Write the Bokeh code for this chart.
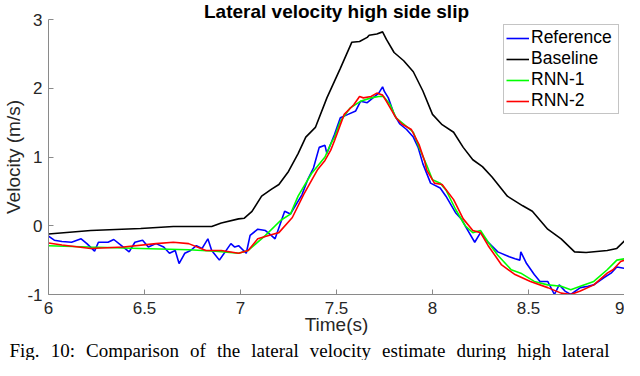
import numpy as np
from bokeh.plotting import figure
from bokeh.models import Range1d, FixedTicker, Legend, LegendItem, Title
from bokeh.embed import file_html
from bokeh.resources import INLINE

# ---------------- data ----------------
ref_t = [6.00, 6.03, 6.07, 6.12, 6.17, 6.20, 6.24, 6.26, 6.31, 6.34, 6.38, 6.42, 6.45,
         6.49, 6.52, 6.56, 6.60, 6.63, 6.66, 6.68, 6.71, 6.74, 6.77, 6.80, 6.83, 6.85,
         6.89, 6.92, 6.95, 6.97, 6.99, 7.03, 7.05, 7.09, 7.13, 7.16, 7.18, 7.21, 7.23,
         7.26, 7.29, 7.32, 7.35, 7.38, 7.41, 7.44, 7.45, 7.49, 7.52, 7.56, 7.60, 7.625,
         7.66, 7.69, 7.72, 7.74, 7.75, 7.77, 7.80, 7.83, 7.865, 7.90, 7.925, 7.95, 7.99,
         8.04, 8.07, 8.12, 8.15, 8.18, 8.22, 8.25, 8.29, 8.34, 8.40, 8.43, 8.455, 8.46,
         8.49, 8.53, 8.56, 8.60, 8.635, 8.66, 8.69, 8.72, 8.77, 8.81, 8.84, 8.89, 8.93,
         8.96, 9.00]
ref_v = [-0.15, -0.21, -0.23, -0.24, -0.19, -0.26, -0.37, -0.24, -0.24, -0.20, -0.29, -0.38, -0.24,
         -0.21, -0.31, -0.26, -0.31, -0.40, -0.36, -0.55, -0.40, -0.36, -0.29, -0.33, -0.19, -0.36,
         -0.50, -0.38, -0.26, -0.31, -0.29, -0.40, -0.14, -0.05, -0.07, -0.14, -0.19, 0.05, 0.21,
         0.17, 0.31, 0.45, 0.67, 0.84, 1.14, 1.17, 1.05, 1.33, 1.57, 1.62, 1.67, 1.81,
         1.79, 1.86, 1.93, 2.02, 1.95, 1.86, 1.62, 1.48, 1.40, 1.29, 1.14, 0.90, 0.62,
         0.55, 0.43, 0.19, 0.10, -0.05, -0.24, -0.10, -0.24, -0.38, -0.45, -0.48, -0.50, -0.38,
         -0.55, -0.71, -0.81, -0.81, -1.00, -0.86, -0.95, -1.00, -0.90, -0.88, -0.86, -0.76, -0.69,
         -0.60, -0.62]

base_t = [6.00, 6.22, 6.48, 6.65, 6.85, 6.90, 6.99, 7.02, 7.06, 7.11, 7.16, 7.20, 7.25,
          7.30, 7.34, 7.39, 7.45, 7.52, 7.58, 7.62, 7.66, 7.67, 7.71, 7.74, 7.76, 7.80,
          7.85, 7.90, 7.95, 8.00, 8.05, 8.11, 8.16, 8.21, 8.26, 8.31, 8.39, 8.47, 8.52,
          8.60, 8.67, 8.74, 8.80, 8.91, 8.96, 9.00]
base_v = [-0.12, -0.07, -0.04, -0.01, -0.01, 0.04, 0.10, 0.11, 0.21, 0.43, 0.53, 0.60, 0.79,
          1.05, 1.29, 1.43, 1.86, 2.29, 2.67, 2.68, 2.74, 2.77, 2.79, 2.82, 2.71, 2.52,
          2.40, 2.24, 1.96, 1.62, 1.47, 1.36, 1.14, 0.96, 0.86, 0.71, 0.43, 0.29, 0.21,
          -0.05, -0.19, -0.38, -0.39, -0.36, -0.33, -0.22]

rnn1_t = [6.00, 6.21, 6.48, 6.73, 6.87, 6.99, 7.04, 7.13, 7.21, 7.26, 7.30, 7.37, 7.44,
          7.47, 7.49, 7.52, 7.57, 7.625, 7.68, 7.72, 7.745, 7.78, 7.81, 7.85, 7.90, 7.93,
          7.97, 8.00, 8.04, 8.07, 8.12, 8.17, 8.21, 8.25, 8.29, 8.34, 8.41, 8.46, 8.53,
          8.60, 8.67, 8.72, 8.77, 8.84, 8.91, 8.96, 9.00]
rnn1_v = [-0.29, -0.31, -0.33, -0.35, -0.37, -0.40, -0.36, -0.14, 0.08, 0.17, 0.43, 0.76, 1.00,
          1.19, 1.29, 1.52, 1.71, 1.81, 1.86, 1.88, 1.88, 1.76, 1.57, 1.48, 1.36, 1.14,
          0.88, 0.67, 0.62, 0.52, 0.24, 0.00, -0.10, -0.07, -0.24, -0.43, -0.64, -0.69, -0.81,
          -0.86, -0.88, -0.93, -0.88, -0.81, -0.64, -0.50, -0.48]

rnn2_t = [6.00, 6.07, 6.22, 6.39, 6.56, 6.65, 6.73, 6.82, 6.90, 6.99, 7.04, 7.09, 7.16,
          7.20, 7.27, 7.33, 7.40, 7.44, 7.47, 7.49, 7.54, 7.59, 7.62, 7.64, 7.68, 7.71,
          7.74, 7.76, 7.81, 7.84, 7.89, 7.93, 7.96, 7.97, 8.01, 8.05, 8.11, 8.16, 8.21,
          8.25, 8.29, 8.36, 8.43, 8.51, 8.60, 8.67, 8.72, 8.77, 8.84, 8.91, 8.94, 8.98, 9.00]
rnn2_v = [-0.25, -0.28, -0.33, -0.31, -0.26, -0.24, -0.26, -0.36, -0.36, -0.40, -0.36, -0.19, -0.13,
          -0.10, 0.12, 0.46, 0.81, 0.95, 1.10, 1.24, 1.62, 1.76, 1.88, 1.86, 1.88, 1.93,
          1.90, 1.81, 1.57, 1.48, 1.40, 1.18, 0.93, 0.81, 0.62, 0.60, 0.38, 0.10, -0.07,
          -0.10, -0.29, -0.57, -0.71, -0.81, -0.90, -0.98, -1.00, -0.95, -0.86, -0.69, -0.64, -0.52, -0.50]

series_names = ["Reference", "Baseline", "RNN-1", "RNN-2"]
series_colors = ["#0000ff", "#000000", "#00ff00", "#ff0000"]

x_ticks = [6, 6.5, 7, 7.5, 8, 8.5, 9]
x_tick_labels = ["6", "6.5", "7", "7.5", "8", "8.5", "9"]
y_ticks = [-1, 0, 1, 2, 3]
y_tick_labels = ["-1", "0", "1", "2", "3"]

title_text = "Lateral velocity high side slip"
x_label = "Time(s)"
y_label = "Velocity (m/s)"
caption_words = ["Fig.", "10:", "Comparison", "of", "the", "lateral", "velocity",
                 "estimate", "during", "high", "lateral"]

# ---------------- figure ----------------
p = figure(width=624, height=360, output_backend="svg", toolbar_location=None,
           x_range=Range1d(6, 9), y_range=Range1d(-1, 3),
           min_border_left=0, min_border_right=0, min_border_top=0, min_border_bottom=0)
p.outline_line_color = None
p.xgrid.visible = False
p.ygrid.visible = False
p.background_fill_color = "white"
p.border_fill_color = "white"

p.title.text = title_text
p.title.align = "center"
p.title.text_font = "Liberation Sans"
p.title.text_font_style = "bold"
p.title.text_font_size = "19px"
p.title.text_color = "#000000"
p.title.standoff = -4

for ax, ticks, labels in ((p.xaxis[0], x_ticks, x_tick_labels), (p.yaxis[0], y_ticks, y_tick_labels)):
    ax.ticker = FixedTicker(ticks=ticks)
    ax.major_label_overrides = {t: l for t, l in zip(ticks, labels)}
    ax.minor_tick_line_color = None
    ax.major_tick_in = 5
    ax.major_tick_out = 0
    ax.axis_line_color = "#8a8a8a"
    ax.major_tick_line_color = "#8a8a8a"
    ax.major_label_text_font = "Liberation Sans"
    ax.major_label_text_font_size = "17px"
    ax.major_label_text_color = "#262626"
    ax.axis_label_text_font = "Liberation Sans"
    ax.axis_label_text_font_size = "19px"
    ax.axis_label_text_font_style = "normal"
    ax.axis_label_text_color = "#262626"
p.xaxis.axis_label = x_label
p.yaxis.axis_label = y_label
p.xaxis.axis_label_standoff = -3
p.yaxis.axis_label_standoff = 0
p.xaxis.major_label_standoff = 7
p.yaxis.major_label_standoff = 6

renderers = []
for (t, v), c in zip([(ref_t, ref_v), (base_t, base_v), (rnn1_t, rnn1_v), (rnn2_t, rnn2_v)], series_colors):
    renderers.append(p.line(t, v, line_color=c, line_width=1.6))

legend = Legend(items=[LegendItem(label=n, renderers=[r]) for n, r in zip(series_names, renderers)],
                location="top_right",
                label_text_font="Liberation Sans", label_text_font_size="17.5px",
                label_text_color="#000000",
                glyph_width=23, glyph_height=20, label_height=20, label_width=85,
                label_standoff=2, padding=2, spacing=0, margin=5,
                border_line_color="#8a8a8a", border_line_width=1,
                background_fill_color="white", background_fill_alpha=1.0)
p.add_layout(legend, "center")

caption = Title(text="\u2002\u200a".join(caption_words), align="left", offset=-39,
                text_font="Liberation Serif", text_font_size="19px",
                text_font_style="normal", text_color="#000000", standoff=0)
p.add_layout(caption, "below")

open("out.html", "w").write(file_html(p, INLINE))
